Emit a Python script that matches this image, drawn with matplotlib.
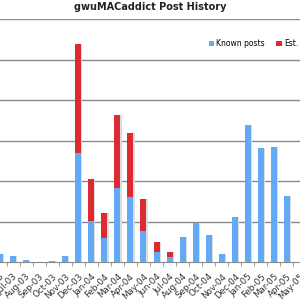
import numpy as np
import matplotlib
matplotlib.use('Agg')
import matplotlib.pyplot as plt

months = ['Jun-03', 'Jul-03', 'Aug-03', 'Sep-03', 'Oct-03', 'Nov-03', 'Dec-03',
          'Jan-04', 'Feb-04', 'Mar-04', 'Apr-04', 'May-04', 'Jun-04', 'Jul-04',
          'Aug-04', 'Sep-04', 'Oct-04', 'Nov-04', 'Dec-04', 'Jan-05', 'Feb-05',
          'Mar-05', 'Apr-05', 'May-05']
known = [20, 15, 5, 0, 2, 15, 270, 101, 59, 183, 160, 77, 25, 12,
         62, 96, 67, 20, 111, 338, 281, 284, 163, 0]
est = [0, 0, 0, 0, 0, 0, 268, 104, 62, 180, 158, 78, 24, 13,
       0, 0, 0, 0, 0, 0, 0, 0, 0, 0]

blue = '#62a9f7'
red = '#dc2a32'

fig = plt.figure(figsize=(3, 3), dpi=100)
ax = fig.add_axes([0, 38 / 300, 1, 243 / 300])

x = np.arange(len(months))
w = 0.46
total = np.array(known) + np.array(est)

# faint drop shadow like the original
ax.bar(x + 0.09, total, w, color='#dcdcdc', zorder=2)
ax.bar(x, known, w, color=blue, zorder=3, label='Known posts')
ax.bar(x, est, w, bottom=known, color=red, zorder=3, label='Est.')

ax.set_xlim(0.147, 22.25)
ax.set_ylim(0, 600)
ax.set_yticks(range(100, 601, 100))
ax.tick_params(axis='y', left=False, labelleft=False)
ax.grid(axis='y', color='#8a8a8a', linewidth=1)
ax.set_axisbelow(True)

for s in ['left', 'right', 'top']:
    ax.spines[s].set_visible(False)
ax.spines['bottom'].set_color('#8a8a8a')

ax.set_xticks(x)
ax.set_xticklabels(months, rotation=45, ha='right', rotation_mode='anchor',
                   fontsize=6.3, color='#333333')
ax.tick_params(axis='x', which='major', length=0, pad=7)
ax.set_xticks(x[:-1] + 0.5, minor=True)
ax.tick_params(axis='x', which='minor', length=3, color='#8a8a8a')

fig.text(0.5, 0.993, 'gwuMACaddict Post History', ha='center', va='top',
         fontsize=7, fontweight='bold', color='#222222')

ax.legend(loc='upper left', bbox_to_anchor=(0.685, 0.93), ncol=2, frameon=False,
          fontsize=5.5, handlelength=0.7, handleheight=0.7, handletextpad=0.3,
          columnspacing=1.5, borderaxespad=0)

fig.savefig('out.png', dpi=100)
